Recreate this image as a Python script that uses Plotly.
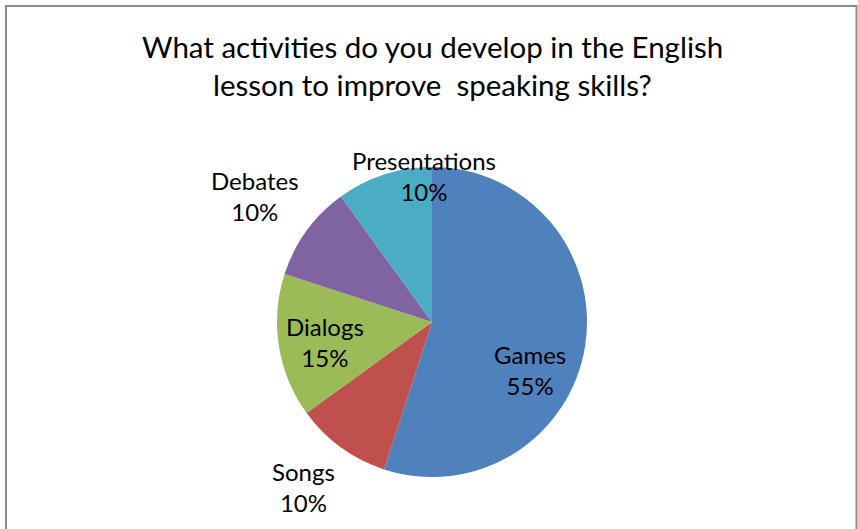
import math
import plotly.graph_objects as go

categories = ["Games", "Songs", "Dialogs", "Debates", "Presentations"]
values = [55, 10, 15, 10, 10]
colors = ["#4F81BD", "#C0504D", "#9BBB59", "#8064A2", "#4BACC6"]
title_lines = ["What activities do you develop in the English",
               "lesson to improve \u00a0speaking skills?"]

# label placement style (relative to each slice's mid-angle and the pie radius)
label_radius = [0.704, 1.351, 0.702, 1.402, 0.943]
label_angle_shift = [17, 2, -1.6, -0.6, 14.9]

W, H = 858, 529
cx, cy, r = 432, 322, 155
FONT = "Lato, Open Sans, sans-serif"

fig = go.Figure(go.Pie(
    labels=categories,
    values=values,
    marker=dict(colors=colors, line=dict(color="white", width=0)),
    sort=False,
    direction="clockwise",
    rotation=0,
    textinfo="none",
    showlegend=False,
    hoverinfo="label+percent",
    domain=dict(x=[(cx - r) / W, (cx + r) / W], y=[1 - (cy + r) / H, 1 - (cy - r) / H]),
    automargin=False,
))

annotations = []
total = sum(values)
cum = 0
for cat, v, rf, sh in zip(categories, values, label_radius, label_angle_shift):
    mid = (cum + v / 2) / total * 360 + sh
    cum += v
    th = math.radians(mid)
    px = cx + rf * r * math.sin(th)
    py = cy - rf * r * math.cos(th)
    annotations.append(dict(
        text=f"{cat}<br>{round(v / total * 100)}%", x=px / W, y=1 - py / H,
        xref="paper", yref="paper", xanchor="center", yanchor="middle",
        showarrow=False, align="center",
        font=dict(family=FONT, size=24, color="black")))

title_size = 29.5
title_centers = [58 - 0.39 * title_size, 96 - 0.39 * title_size]
for t, yc in zip(title_lines, title_centers):
    annotations.append(dict(text=t, x=432 / W, y=1 - yc / H, xref="paper", yref="paper",
                            xanchor="center", yanchor="middle", showarrow=False,
                            font=dict(family=FONT, size=title_size, color="black")))

fig.update_layout(
    width=W, height=H,
    margin=dict(l=0, r=0, t=0, b=0),
    paper_bgcolor="white",
    plot_bgcolor="white",
    annotations=annotations,
    shapes=[dict(type="rect", xref="paper", yref="paper",
                 x0=6 / W, x1=856.5 / W, y0=-0.02, y1=1 - 6 / H,
                 line=dict(color="#8c8c8c", width=2), fillcolor="rgba(0,0,0,0)")],
)

fig.write_html("out.html", config={"displayModeBar": False},
               post_script="document.body.style.margin='0';document.body.style.overflow='hidden';")
